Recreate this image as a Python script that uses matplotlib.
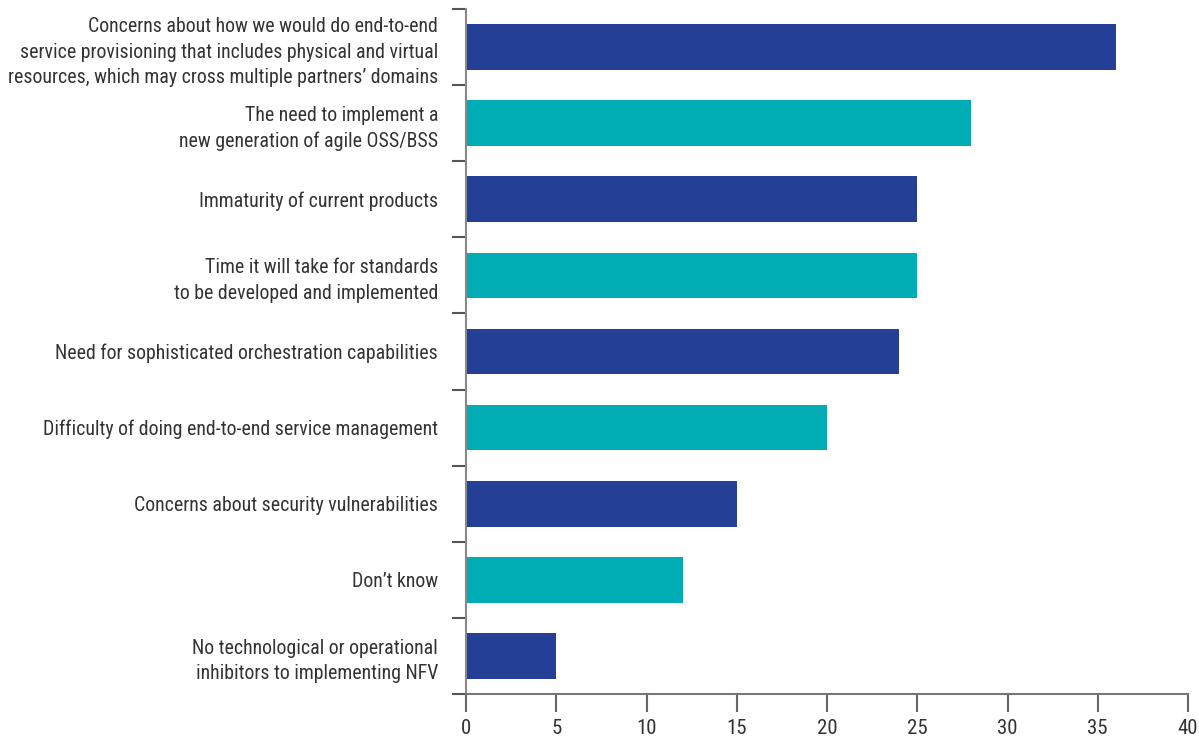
import matplotlib
matplotlib.use("Agg")
import matplotlib.pyplot as plt
from matplotlib import font_manager
import numpy as np

categories = [
    "Concerns about how we would do end-to-end\nservice provisioning that includes physical and virtual\nresources, which may cross multiple partners\u2019 domains",
    "The need to implement a\nnew generation of agile OSS/BSS",
    "Immaturity of current products",
    "Time it will take for standards\nto be developed and implemented",
    "Need for sophisticated orchestration capabilities",
    "Difficulty of doing end-to-end service management",
    "Concerns about security vulnerabilities",
    "Don\u2019t know",
    "No technological or operational\ninhibitors to implementing NFV",
]
values = [36, 28, 25, 25, 24, 20, 15, 12, 5]
xticks = [0, 5, 10, 15, 20, 25, 30, 35, 40]

blue = "#233f96"
teal = "#00adb5"
colors = [blue if i % 2 == 0 else teal for i in range(len(values))]

# find a condensed / narrow font
cands = []
for f in font_manager.fontManager.ttflist:
    fn = f.fname.lower()
    if ("narrow" in fn or "condensed" in fn) and "bold" not in fn and "italic" not in fn and "oblique" not in fn:
        cands.append(f)
pref = ["liberationsansnarrow-regular", "robotocondensed", "opensans_condensed", "dejavusanscondensed.ttf"]
chosen = None
for p in pref:
    for f in cands:
        if p in f.fname.lower().replace("-", "").replace("_", "") or p in f.fname.lower():
            chosen = f
            break
    if chosen:
        break
if chosen is None and cands:
    chosen = cands[0]
if chosen is not None:
    fp = font_manager.FontProperties(fname=chosen.fname)
else:
    fp = font_manager.FontProperties(family="DejaVu Sans", stretch="condensed")

fig = plt.figure(figsize=(11.99, 7.42), dpi=100)
ax = fig.add_axes([466/1199, 1 - 694/742, (1188 - 466)/1199, (694 - 9)/742])

y = np.arange(len(values))
ax.barh(y, values, height=0.6, color=colors, zorder=2)
ax.set_ylim(len(values) - 0.5, -0.5)
ax.set_xlim(0, 40)

ax.set_yticks(y)
ax.set_yticklabels(categories, fontproperties=fp, fontsize=14.3, color="#333333", linespacing=1.42)
ax.tick_params(axis="y", which="major", length=0, pad=20)
ax.set_yticks(np.arange(-0.5, len(values), 1.0), minor=True)
ax.tick_params(axis="y", which="minor", length=10, width=1.5, color="#555555", direction="out")

ax.set_xticks(xticks)
ax.set_xticklabels([str(t) for t in xticks], fontproperties=fp, fontsize=15, color="#333333")
ax.tick_params(axis="x", length=13, width=1.5, color="#666666", pad=5)

for s in ["top", "right"]:
    ax.spines[s].set_visible(False)
ax.spines["left"].set_color("#888888")
ax.spines["left"].set_linewidth(1.5)
ax.spines["bottom"].set_color("#777777")
ax.spines["bottom"].set_linewidth(1.5)

fig.savefig("out.png", dpi=100)
